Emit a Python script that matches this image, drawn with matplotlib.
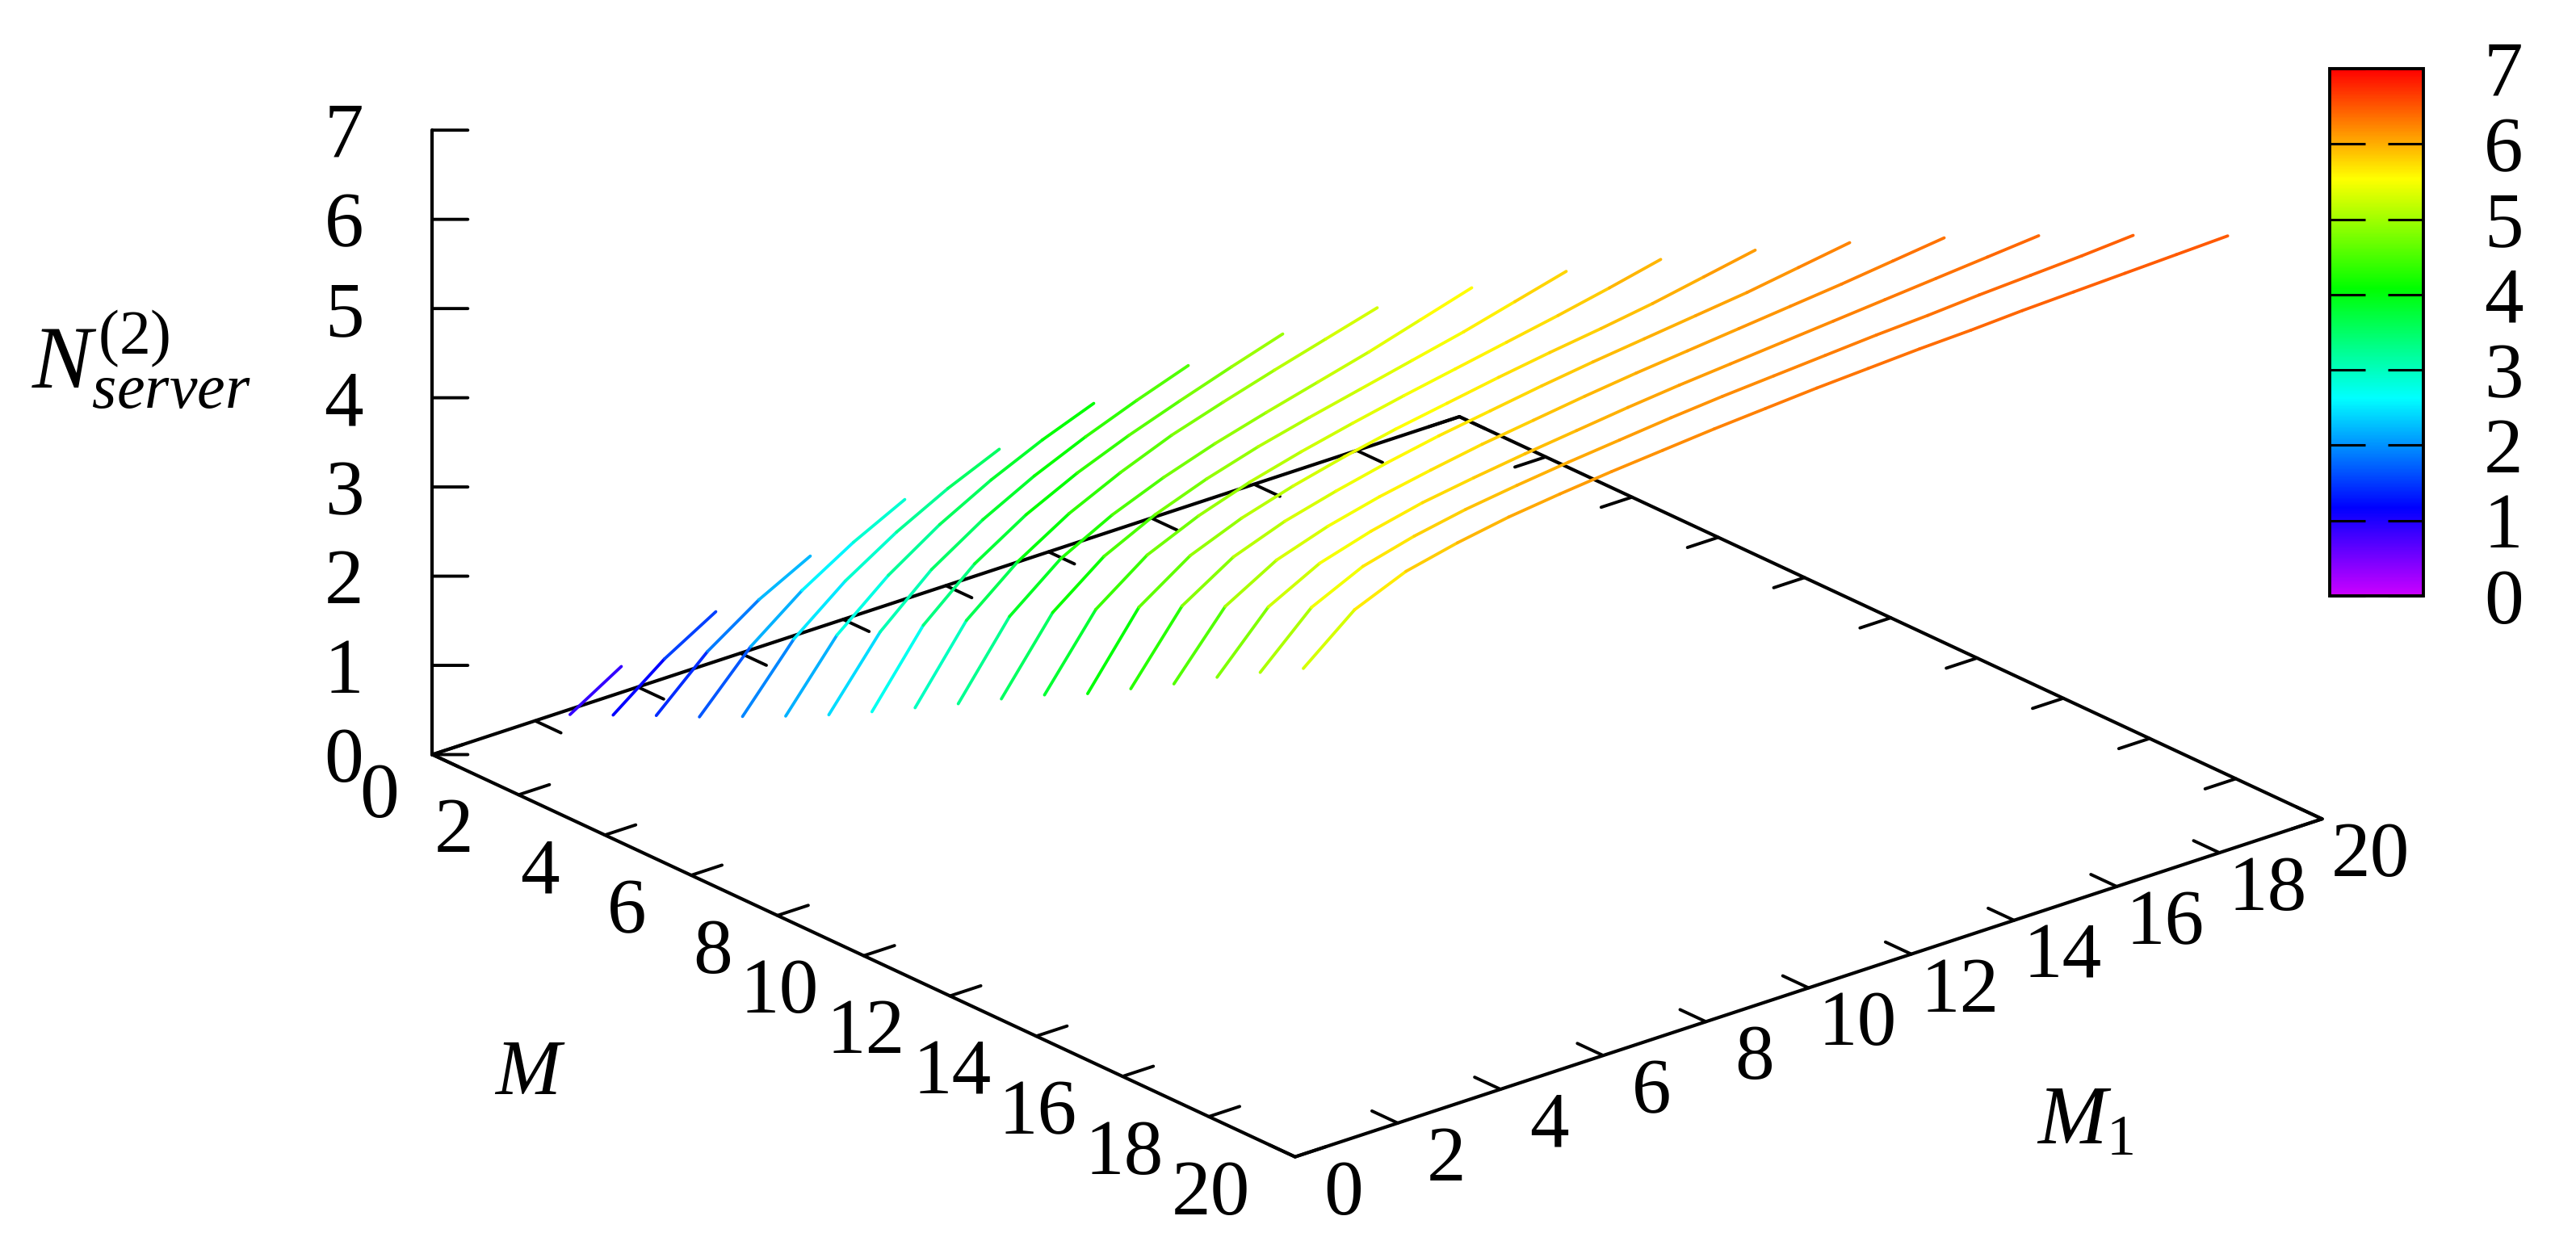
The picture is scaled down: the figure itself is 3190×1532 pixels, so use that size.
"""Surface lines of N_server^(2) against M and M1, drawn like the gnuplot 3D view."""

import numpy as np
import matplotlib
matplotlib.use('Agg')
import matplotlib.pyplot as plt
from matplotlib.colors import LinearSegmentedColormap, Normalize
from mpl_toolkits.mplot3d import proj3d
from mpl_toolkits.mplot3d.art3d import Line3DCollection

W, H = 3190, 1532

# one list per M, entries are M1 = 1 .. M
n_m02 = [0.71, 1.06]
n_m03 = [0.93, 1.37, 1.71]
n_m04 = [1.15, 1.68, 2.07, 2.37]
n_m05 = [1.36, 1.96, 2.40, 2.75, 3.04]
n_m06 = [1.59, 2.27, 2.73, 3.09, 3.39, 3.64]
n_m07 = [1.82, 2.54, 3.02, 3.40, 3.71, 3.97, 4.19]
n_m08 = [2.06, 2.80, 3.31, 3.68, 3.98, 4.23, 4.45, 4.65]
n_m09 = [2.32, 3.10, 3.60, 3.96, 4.24, 4.47, 4.67, 4.86, 5.04]
n_m10 = [2.59, 3.38, 3.85, 4.20, 4.47, 4.70, 4.88, 5.05, 5.21, 5.37]
n_m11 = [2.86, 3.65, 4.11, 4.41, 4.64, 4.83, 4.99, 5.14, 5.29, 5.46, 5.63]
n_m12 = [3.14, 3.92, 4.36, 4.64, 4.85, 5.02, 5.16, 5.29, 5.42, 5.55, 5.70, 5.85]
n_m13 = [3.41, 4.18, 4.60, 4.85, 5.04, 5.19, 5.32, 5.44, 5.55, 5.66, 5.77, 5.89, 6.02]
n_m14 = [3.65, 4.43, 4.82, 5.05, 5.22, 5.36, 5.48, 5.58, 5.68, 5.77, 5.85, 5.94, 6.05, 6.16]
n_m15 = [3.93, 4.67, 5.03, 5.24, 5.39, 5.52, 5.63, 5.72, 5.81, 5.89, 5.96, 6.03, 6.10, 6.19, 6.28]
n_m16 = [4.21, 4.89, 5.22, 5.41, 5.55, 5.66, 5.76, 5.84, 5.92, 5.99, 6.05, 6.11, 6.17, 6.23, 6.30, 6.37]
n_m17 = [4.51, 5.11, 5.41, 5.58, 5.71, 5.80, 5.88, 5.95, 6.02, 6.08, 6.13, 6.18, 6.23, 6.28, 6.33, 6.38, 6.43]
n_m18 = [4.79, 5.33, 5.60, 5.75, 5.86, 5.94, 6.01, 6.07, 6.13, 6.18, 6.22, 6.26, 6.30, 6.33, 6.37, 6.40, 6.43, 6.47]
n_m19 = [5.06, 5.53, 5.77, 5.90, 6.00, 6.07, 6.13, 6.18, 6.23, 6.27, 6.31, 6.34, 6.37, 6.39, 6.42, 6.44, 6.46, 6.48, 6.50]

M_VALUES = list(range(2, 20))
CURVES = [n_m02, n_m03, n_m04, n_m05, n_m06, n_m07, n_m08, n_m09, n_m10,
          n_m11, n_m12, n_m13, n_m14, n_m15, n_m16, n_m17, n_m18, n_m19]

FLOOR_TICKS = list(range(0, 21, 2))
Z_TICKS = list(range(0, 8))

plt.rcParams['font.family'] = 'Liberation Serif'
plt.rcParams['mathtext.fontset'] = 'custom'
plt.rcParams['mathtext.rm'] = 'Liberation Serif'
plt.rcParams['mathtext.it'] = 'Liberation Serif:italic'

FONT = 70
AXIS_LW = 3.0
TICK_LW = 2.8

palette = LinearSegmentedColormap.from_list('gnu_rainbow', [
    (0.0, '#cc00ff'),
    (0.1667, '#0000ff'),
    (0.375, '#00ffff'),
    (0.5833, '#00ff00'),
    (0.7917, '#ffff00'),
    (1.0, '#ff0000'),
], N=512)
norm = Normalize(0, 7)

fig = plt.figure(figsize=(W / 100, H / 100), dpi=100, facecolor='white')

# square 3D panel, bigger than the figure so the box fits at the needed scale
side = 2422
cx, cy = 1705.5, 587.75
left = cx - 0.5135 * side
bottom = (H - cy) - 0.5135 * side
ax = fig.add_axes([left / W, bottom / H, side / W, side / H],
                  projection='3d', proj_type='ortho', computed_zorder=False)
ax.view_init(elev=23.06, azim=-40.03)
ax.set_box_aspect((1, 1, 0.506))
ax.set_xlim(0, 20)
ax.set_ylim(0, 20)
ax.set_zlim(0, 7)
ax.set_axis_off()


def edge(xs, ys, zs, lw=AXIS_LW):
    ax.plot(xs, ys, zs, color='black', lw=lw, zorder=1, solid_capstyle='round')


def tick_label(x, y, z, text, ha):
    # project first, so the label is a plain 2D text in the panel
    px, py, _ = proj3d.proj_transform(x, y, z, ax.get_proj())
    ax.text2D(px, py, text, transform=ax.transData, fontsize=FONT,
              ha=ha, va='center_baseline')


# floor border and z axis
edge([0, 20, 20, 0, 0], [0, 0, 20, 20, 0], [0, 0, 0, 0, 0])
edge([0, 0], [0, 0], [0, 7])

# ticks on all four floor edges, the mirrored ones point inwards as well
for t in FLOOR_TICKS:
    edge([t, t], [0, 0.6], [0, 0], TICK_LW)
    edge([t, t], [20, 19.4], [0, 0], TICK_LW)
    edge([0, 0.6], [t, t], [0, 0], TICK_LW)
    edge([20, 19.4], [t, t], [0, 0], TICK_LW)
    nudge = 0.27 if t == 0 else 0
    tick_label(t + 0.44 + nudge, -1.25, 0, str(t), 'right')
    tick_label(21.34, t - 0.18, 0, str(t), 'center')

for z in Z_TICKS:
    edge([0, 0.34], [0, 0.405], [z, z], TICK_LW)
    tick_label(-0.66, -0.785, z, str(z), 'right')

# every segment takes its colour from its mean height
segments, heights = [], []
for m, values in zip(M_VALUES, CURVES):
    m1 = np.arange(1, m + 1)
    pts = np.column_stack([np.full(m, m), m1, values])
    segments.extend(np.stack([pts[:-1], pts[1:]], axis=1))
    heights.extend((pts[:-1, 2] + pts[1:, 2]) / 2)

lines = Line3DCollection(segments, cmap=palette, norm=norm, linewidths=2.7,
                         capstyle='round', zorder=2)
lines.set_array(np.array(heights))
ax.add_collection3d(lines)


def label(x, y, text, **kw):
    fig.text(x / W, 1 - y / H, text, ha='center', va='center', **kw)


label(656, 1332, r'$M$', fontsize=FONT)
label(2582, 1392, r'$M_1$', fontsize=FONT + 4)
label(175, 446, r'$N_{server}^{(2)}$', fontsize=FONT + 10)

# colour box on the right
cax = fig.add_axes([2885 / W, 1 - 738 / H, (3001 - 2885) / W, (738 - 85) / H])
cbar = fig.colorbar(lines, cax=cax, ticks=Z_TICKS)
cbar.outline.set_linewidth(2.8)
cbar.ax.tick_params(which='major', direction='in', left=True, right=True,
                    length=32, width=2.2, pad=54, labelsize=FONT)

fig.savefig('out.png', dpi=100, facecolor='white')
